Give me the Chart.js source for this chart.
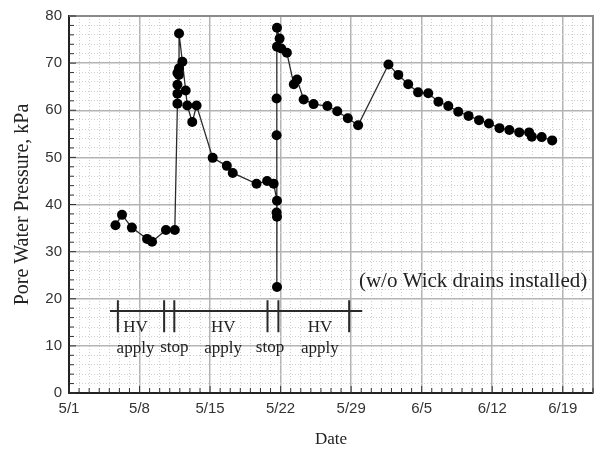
<!DOCTYPE html>
<html>
<head>
<meta charset="utf-8">
<script src="https://cdn.jsdelivr.net/npm/chart.js@4/dist/chart.umd.min.js"></script>
<style>
  html, body { margin: 0; padding: 0; background: #fff; }
  #wrap { width: 600px; height: 452px; }
</style>
</head>
<body>
<div id="wrap"><canvas id="chart"></canvas></div>
<script>
// days after 5/1 and pore water pressure (kPa)
const days = [4.61, 5.26, 6.24, 7.75, 8.24, 9.62, 10.50,
  10.76, 10.76, 10.76, 10.9, 10.76, 10.92, 10.92,
  11.25, 11.58, 11.74, 12.23, 12.66, 14.26, 15.66, 16.25, 18.61, 19.66, 20.31,
  20.64, 20.6, 20.64, 20.64, 20.6, 20.6, 20.64, 20.64, 20.9, 21.06, 21.62,
  22.31, 22.63, 23.29, 24.27, 25.64, 26.62, 27.67, 28.69,
  31.7, 32.68, 33.66, 34.64, 35.65, 36.66, 37.64, 38.63, 39.65, 40.69,
  41.67, 42.72, 43.7, 44.68, 45.66, 45.93, 46.91, 47.95];
const pressure = [35.6, 37.8, 35.1, 32.7, 32.1, 34.6, 34.6,
  61.4, 63.5, 65.4, 67.5, 67.9, 68.9, 76.3,
  70.3, 64.2, 61.0, 57.5, 61.0, 49.9, 48.2, 46.7, 44.4, 45.0, 44.4,
  40.8, 38.3, 37.4, 22.5, 54.7, 62.5, 73.5, 77.5, 75.2, 73.1, 72.2,
  65.5, 66.5, 62.3, 61.3, 60.9, 59.8, 58.3, 56.8,
  69.7, 67.5, 65.5, 63.8, 63.6, 61.8, 60.9, 59.7, 58.8, 57.9,
  57.2, 56.2, 55.8, 55.3, 55.3, 54.4, 54.3, 53.6];

const dateLabels = ['5/1', '5/8', '5/15', '5/22', '5/29', '6/5', '6/12', '6/19'];

// HV apply / stop timeline
const phaseStart = 4.07;
const phaseEnd = 29.1;
const phaseLevel = 17.4;
const phaseMarks = [4.85, 9.44, 10.45, 19.7, 20.78, 27.8];
const markTop = 19.7;
const markBottom = 12.9;
const phaseNames = [['HV', 'apply'], ['stop'], ['HV', 'apply'], ['stop'], ['HV', 'apply']];
const phaseCenters = [6.6, 10.45, 15.3, 19.95, 24.9];

const noteText = '(w/o Wick drains installed)';
const noteDay = 40.1;
const noteValue = 23.6;

let timeline = [{x: phaseStart, y: phaseLevel}, {x: phaseEnd, y: phaseLevel}, {x: phaseEnd, y: null}]
phaseMarks.forEach(d => {
  timeline.push({x: d, y: markTop}, {x: d, y: markBottom}, {x: d, y: null})
})

const points = days.map((d, i) => ({x: d, y: pressure[i]}))

const extras = {
  id: 'extras',
  beforeDatasetsDraw(chart) {
    const ctx = chart.ctx
    const xs = chart.scales.x
    const ys = chart.scales.y
    const a = chart.chartArea
    ctx.save()
    // frame top / right
    ctx.strokeStyle = '#8a8a8a'
    ctx.lineWidth = 2
    ctx.beginPath()
    ctx.moveTo(a.left, a.top)
    ctx.lineTo(a.right, a.top)
    ctx.lineTo(a.right, a.bottom)
    ctx.stroke()
    // inward ticks
    ctx.strokeStyle = '#333'
    ctx.lineWidth = 1
    ctx.beginPath()
    xs.ticks.forEach(t => {
      const px = xs.getPixelForValue(t.value)
      ctx.moveTo(px, a.bottom)
      ctx.lineTo(px, a.bottom - (t.value % 7 === 0 ? 7 : 5))
    })
    ys.ticks.forEach(t => {
      const py = ys.getPixelForValue(t.value)
      ctx.moveTo(a.left, py)
      ctx.lineTo(a.left + (t.value % 10 === 0 ? 7 : 5), py)
    })
    ctx.stroke()
    ctx.restore()
  },
  afterDatasetsDraw(chart) {
    const ctx = chart.ctx
    const xs = chart.scales.x
    const ys = chart.scales.y
    ctx.save()
    ctx.fillStyle = '#222'
    ctx.textAlign = 'center'
    ctx.textBaseline = 'middle'
    ctx.font = '17px "Liberation Serif", serif'
    phaseNames.forEach((lines, i) => {
      const px = xs.getPixelForValue(phaseCenters[i])
      if (lines.length === 2) {
        ctx.fillText(lines[0], px, ys.getPixelForValue(13.9))
        ctx.fillText(lines[1], px, ys.getPixelForValue(9.45))
      } else {
        ctx.fillText(lines[0], px, ys.getPixelForValue(9.7))
      }
    })
    ctx.font = '21px "Liberation Serif", serif'
    ctx.fillText(noteText, xs.getPixelForValue(noteDay), ys.getPixelForValue(noteValue))
    ctx.restore()
  }
}

new Chart(document.getElementById('chart'), {
  type: 'line',
  data: {
    datasets: [{
      data: points,
      borderColor: '#2a2a2a',
      borderWidth: 1.3,
      backgroundColor: '#000',
      pointRadius: 5,
      pointBorderWidth: 0,
      tension: 0
    }, {
      data: timeline,
      borderColor: '#2a2a2a',
      borderWidth: 2,
      pointRadius: 0,
      spanGaps: false,
      tension: 0
    }]
  },
  options: {
    responsive: true,
    maintainAspectRatio: false,
    animation: false,
    layout: { padding: { top: 12, right: 2, left: 0, bottom: 0 } },
    plugins: { legend: { display: false }, tooltip: { enabled: false } },
    scales: {
      x: {
        type: 'linear',
        min: 0,
        max: 52,
        afterFit: s => { s.height = 59 },
        ticks: {
          stepSize: 1,
          autoSkip: false,
          maxRotation: 0,
          padding: 7,
          color: '#333',
          font: { family: '"Liberation Sans", Arial, sans-serif', size: 15 },
          callback: v => v % 7 === 0 ? dateLabels[v / 7] : ''
        },
        grid: {
          drawTicks: false,
          color: c => c.tick && c.tick.value % 7 === 0 ? '#b4b4b4' : '#cfcfcf',
          lineWidth: c => c.tick && c.tick.value % 7 === 0 ? 1.5 : 1
        },
        border: {
          color: '#222',
          width: 2,
          dash: c => c.tick && c.tick.value % 7 !== 0 ? [1, 2] : []
        },
        title: {
          display: true,
          text: 'Date',
          color: '#222',
          font: { family: '"Liberation Serif", serif', size: 17 },
          padding: { top: 0, bottom: 2 }
        }
      },
      y: {
        min: 0,
        max: 80,
        afterFit: s => { s.width = 69 },
        ticks: {
          stepSize: 2,
          autoSkip: false,
          padding: 7,
          color: '#333',
          font: { family: '"Liberation Sans", Arial, sans-serif', size: 15 },
          callback: v => v % 10 === 0 ? v : ''
        },
        grid: {
          drawTicks: false,
          color: c => c.tick && c.tick.value % 10 === 0 ? '#b4b4b4' : '#cfcfcf',
          lineWidth: c => c.tick && c.tick.value % 10 === 0 ? 1.5 : 1
        },
        border: {
          color: '#222',
          width: 2,
          dash: c => c.tick && c.tick.value % 10 !== 0 ? [1, 2] : []
        },
        title: {
          display: true,
          text: 'Pore Water Pressure, kPa',
          color: '#222',
          font: { family: '"Liberation Serif", serif', size: 20 },
          padding: { top: 11, bottom: 0 }
        }
      }
    }
  },
  plugins: [extras]
});
</script>
</body>
</html>
